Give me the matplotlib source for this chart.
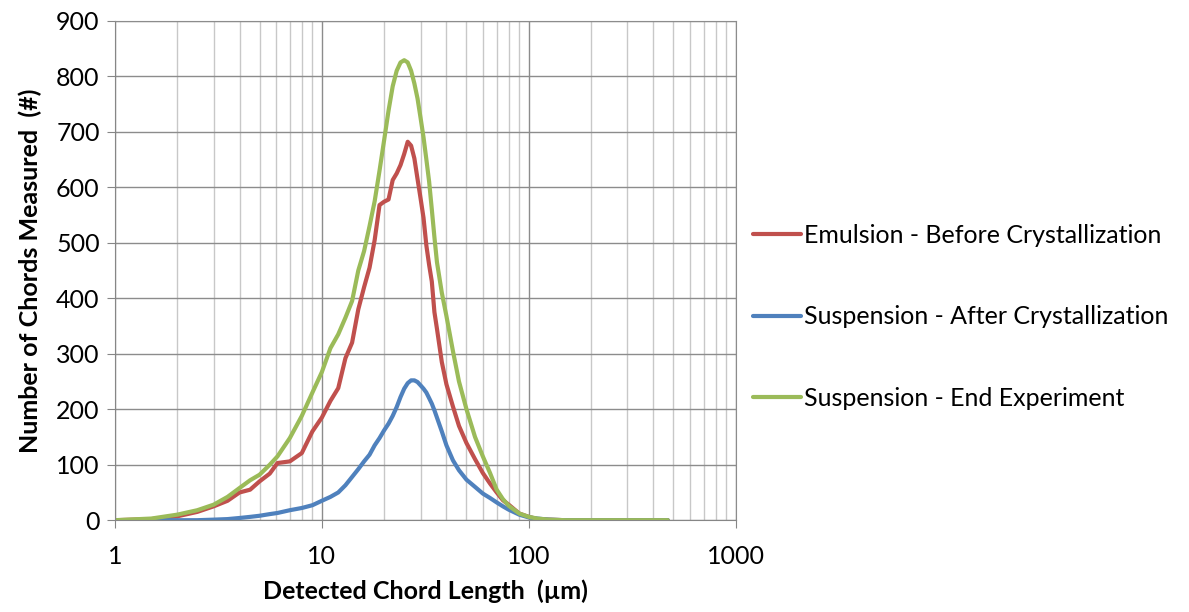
import numpy as np
import matplotlib
matplotlib.use('Agg')
import matplotlib.pyplot as plt
from matplotlib.ticker import FixedLocator, LogLocator, NullFormatter

plt.rcParams['font.family'] = ['Lato', 'DejaVu Sans']

# chord length (um)
chord = [1, 1.5, 2, 2.5, 3, 3.5, 4, 4.5, 5, 5.6, 6.1, 7, 8, 9, 10, 11, 12, 13, 14, 15,
         16, 17, 18, 19, 20, 21, 22, 23, 24, 25, 26, 27, 28, 29, 30, 31, 32, 33, 34, 35,
         36, 38, 40, 43, 46, 50, 55, 60, 65, 70, 75, 80, 90, 100, 110, 125, 150, 200,
         300, 470]

emulsion = [0, 2, 7, 15, 25, 35, 50, 55, 70, 84, 103, 106, 121, 160, 185, 215, 238, 292,
            320, 380, 420, 455, 505, 568, 574, 578, 613, 625, 640, 660, 682, 675, 652, 615,
            580, 545, 495, 460, 430, 375, 345, 285, 245, 205, 170, 139, 110, 85, 66, 50, 36,
            28, 12, 6, 2, 1, 0, 0, 0, 0]

after_cryst = [0, 0, 0, 0, 1, 2, 4, 6, 8, 11, 13, 18, 22, 27, 35, 42, 50, 63, 78, 92, 106,
               118, 135, 148, 162, 174, 188, 204, 222, 237, 247, 252, 252, 249, 243, 237,
               230, 220, 210, 198, 185, 160, 135, 108, 90, 73, 60, 48, 40, 32, 25, 19, 10,
               5, 3, 1, 0, 0, 0, 0]

end_exp = [0, 3, 10, 18, 28, 42, 58, 72, 82, 100, 115, 148, 188, 230, 267, 310, 335, 365,
           395, 450, 485, 530, 575, 630, 685, 738, 782, 810, 825, 829, 825, 810, 787, 760,
           725, 690, 650, 610, 560, 510, 465, 410, 368, 305, 250, 200, 150, 115, 85, 55, 38,
           26, 12, 6, 3, 1, 0, 0, 0, 0]

series = [
    ('Emulsion - Before Crystallization', emulsion, '#C0504D'),
    ('Suspension - After Crystallization', after_cryst, '#4F81BD'),
    ('Suspension - End Experiment', end_exp, '#9BBB59'),
]

fig = plt.figure(figsize=(11.89, 6.12), dpi=100)
ax = fig.add_axes([0.0967, 0.150, 0.522, 0.816])

for name, vals, col in series:
    ax.plot(chord, vals, color=col, lw=3.0, label=name, solid_capstyle='round',
            solid_joinstyle='round')

ax.set_xscale('log')
ax.set_xlim(1, 1000)
ax.set_ylim(0, 900)
ax.xaxis.set_major_locator(FixedLocator([1, 10, 100, 1000]))
ax.set_xticklabels(['1', '10', '100', '1000'])
ax.xaxis.set_minor_locator(LogLocator(base=10, subs=np.arange(2, 10)))
ax.xaxis.set_minor_formatter(NullFormatter())
ax.set_yticks(np.arange(0, 901, 100))

ax.grid(which='major', color='#8c8c8c', lw=1.0)
ax.grid(which='minor', axis='x', color='#c8c8c8', lw=1.0)
ax.set_axisbelow(True)

for s in ax.spines.values():
    s.set_color('#8c8c8c')
ax.spines['left'].set_color('#868686')
ax.spines['bottom'].set_color('#868686')

ax.tick_params(axis='both', which='major', labelsize=18, colors='#868686',
               labelcolor='black', length=6)
ax.tick_params(axis='x', which='major', pad=12)
ax.tick_params(axis='y', which='major', pad=5)
ax.tick_params(axis='x', which='minor', length=0)
ax.tick_params(top=False, right=False)

ax.set_xlabel('Detected Chord Length  (\u00b5m)', fontsize=18, fontweight='bold', labelpad=8)
ax.set_ylabel('Number of Chords Measured  (#)', fontsize=18, fontweight='bold', labelpad=10)

ax.legend(loc='center left', bbox_to_anchor=(1.0, 0.407), frameon=False, fontsize=18,
          borderaxespad=0.3, handlelength=1.9, handletextpad=0.15, labelspacing=2.35)

fig.savefig('out.png', dpi=100)
